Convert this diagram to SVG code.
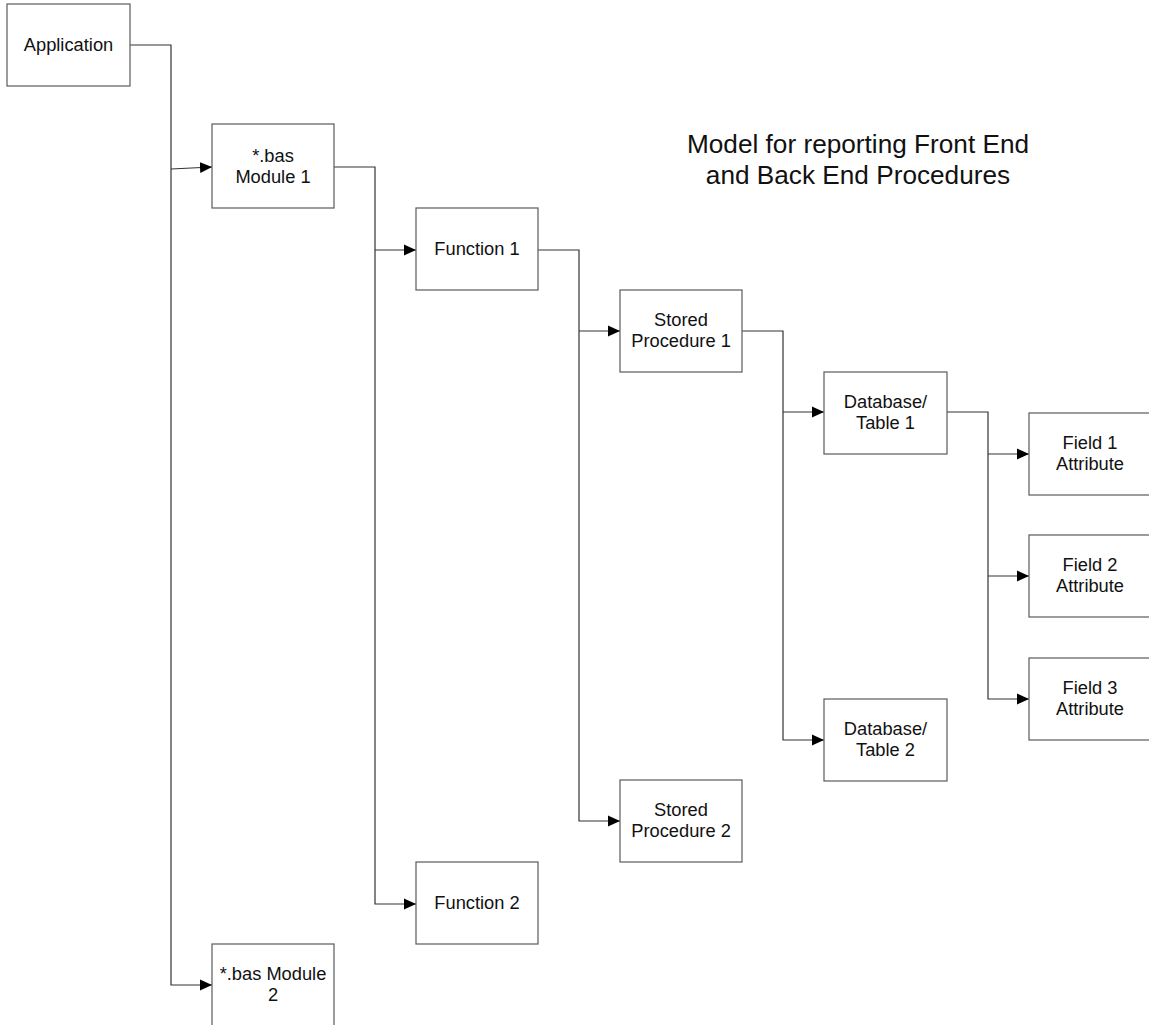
<svg xmlns="http://www.w3.org/2000/svg" width="1149" height="1025" viewBox="0 0 1149 1025">
<defs>
<marker id="arr" markerUnits="userSpaceOnUse" markerWidth="12" markerHeight="12" refX="12" refY="6" orient="auto">
<path d="M0,0.5 L12,6 L0,11.5 z" fill="#000"/>
</marker>
<style>
.box{fill:#fff;stroke:#5a5a5a;stroke-width:1.2}
.t{font-family:"Liberation Sans",Arial,sans-serif;font-size:18.3px;fill:#111;text-anchor:middle}
.title{font-family:"Liberation Sans",Arial,sans-serif;font-size:26.2px;fill:#111;text-anchor:middle}
.c{fill:none;stroke:#333;stroke-width:1.2}
.ca{fill:none;stroke:#333;stroke-width:1.2;marker-end:url(#arr)}
</style>
</defs>
<rect width="1149" height="1025" fill="#fff"/>
<g id="connectors">
<path class="ca" d="M130,45 H171 V985 H212"/>
<path class="ca" d="M171,169 L212,167"/>
<path class="ca" d="M334,167 H375 V904 H416"/>
<path class="ca" d="M375,250 H416"/>
<path class="ca" d="M538,250 H579 V821 H620"/>
<path class="ca" d="M579,331 H620"/>
<path class="ca" d="M742,331 H783 V740 H824"/>
<path class="ca" d="M783,412 H824"/>
<path class="ca" d="M947,412 H988 V699 H1029"/>
<path class="ca" d="M988,454 H1029"/>
<path class="ca" d="M988,576 H1029"/>
</g>
<g id="application"><rect class="box" x="7" y="4" width="123" height="82"/><text class="t" x="68.5" y="51">Application</text></g>
<g id="module1"><rect class="box" x="212" y="124" width="122" height="84"/><text class="t" x="273" y="162">*.bas</text><text class="t" x="273" y="183">Module 1</text></g>
<g id="function1"><rect class="box" x="416" y="208" width="122" height="82"/><text class="t" x="477" y="255">Function 1</text></g>
<g id="sp1"><rect class="box" x="620" y="290" width="122" height="82"/><text class="t" x="681" y="326">Stored</text><text class="t" x="681" y="347">Procedure 1</text></g>
<g id="dt1"><rect class="box" x="824" y="372" width="123" height="82"/><text class="t" x="885.5" y="408">Database/</text><text class="t" x="885.5" y="429">Table 1</text></g>
<g id="field1"><rect class="box" x="1029" y="413" width="122" height="82"/><text class="t" x="1090" y="449">Field 1</text><text class="t" x="1090" y="470">Attribute</text></g>
<g id="field2"><rect class="box" x="1029" y="535" width="122" height="82"/><text class="t" x="1090" y="571">Field 2</text><text class="t" x="1090" y="592">Attribute</text></g>
<g id="field3"><rect class="box" x="1029" y="658" width="122" height="82"/><text class="t" x="1090" y="694">Field 3</text><text class="t" x="1090" y="715">Attribute</text></g>
<g id="dt2"><rect class="box" x="824" y="699" width="123" height="82"/><text class="t" x="885.5" y="735">Database/</text><text class="t" x="885.5" y="756">Table 2</text></g>
<g id="sp2"><rect class="box" x="620" y="780" width="122" height="82"/><text class="t" x="681" y="816">Stored</text><text class="t" x="681" y="837">Procedure 2</text></g>
<g id="function2"><rect class="box" x="416" y="862" width="122" height="82"/><text class="t" x="477" y="909">Function 2</text></g>
<g id="module2"><rect class="box" x="212" y="944" width="122" height="84"/><text class="t" x="273" y="980">*.bas Module</text><text class="t" x="273" y="1001">2</text></g>
<g id="title"><text class="title" x="858" y="153">Model for reporting Front End</text><text class="title" x="858" y="184">and Back End Procedures</text></g>
</svg>
